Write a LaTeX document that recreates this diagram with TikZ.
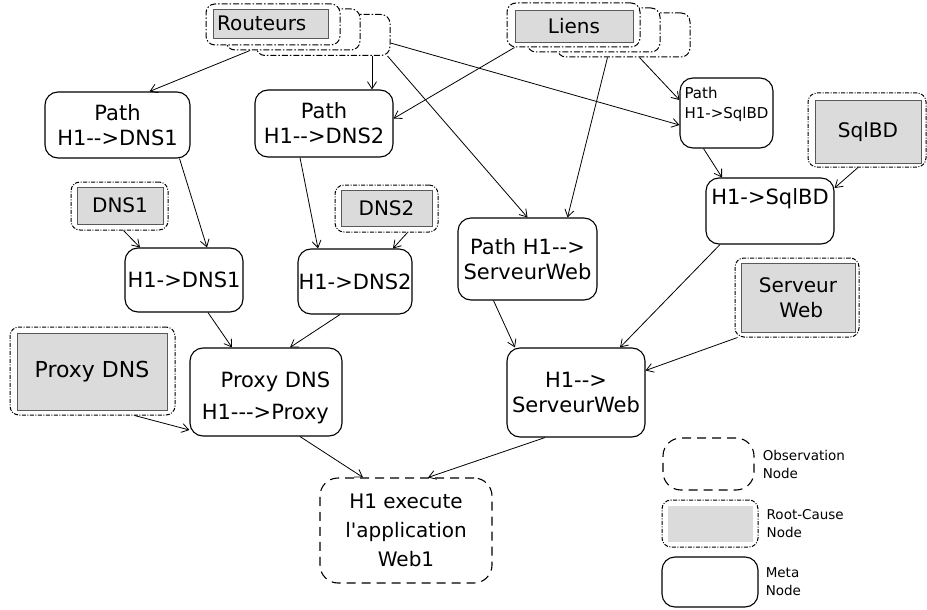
\documentclass[tikz,border=0pt]{standalone}
\usepackage{fontspec}
\setmainfont{DejaVu Sans}[Ligatures=TeXOff]
\usetikzlibrary{arrows.meta,positioning}

\begin{document}
\begin{tikzpicture}[x=1pt,y=-1pt,>={Straight Barb[length=7pt,width=9pt]},
  meta/.style={draw,line width=1.1pt,rounded corners=13pt,align=center,inner sep=0pt,font=\fontsize{21}{25}\selectfont},
  obs/.style={draw,line width=1.1pt,dash pattern=on 9pt off 6pt,rounded corners=18pt,align=center,inner sep=0pt,font=\fontsize{20}{29}\selectfont},
  rcbox/.style={draw,line width=1pt,dash pattern=on 4pt off 1.5pt on 1pt off 1.5pt,rounded corners=9pt,inner sep=0pt},
  rc/.style={draw=black!65,fill=black!14,line width=0.7pt,inner sep=0pt,align=center,font=\fontsize{20}{25}\selectfont},
  stack/.style={draw,fill=white,line width=1pt,dash pattern=on 6pt off 2pt on 1.5pt off 2pt,rounded corners=9pt,minimum width=134pt,minimum height=41pt},
  lnk/.style={->,line width=0.8pt},
  legtxt/.style={align=left,inner sep=0pt,font=\fontsize{13.5}{18}\selectfont}]
\useasboundingbox (0,0) rectangle (927,610);

% Routeurs et Liens
\node[stack] (routeursC) at (323,35) {};
\node[stack] (routeursB) at (293,29.5) {};
\node[stack] (routeursA) at (273,24.5) {};
\node[rc,minimum width=115pt,minimum height=29pt,inner xsep=4pt,text width=107pt,align=left] (routeurs) at (270.5,23.5) {Routeurs};
\node[stack,minimum width=133pt,minimum height=44pt] (liensC) at (623.5,35) {};
\node[stack,minimum width=133pt,minimum height=44pt] (liensB) at (593.5,30) {};
\node[stack,minimum width=133pt,minimum height=44pt] (liensA) at (573.5,25) {};
\node[rc,minimum width=118pt,minimum height=32pt] (liens) at (574,26) {Liens};

% root-cause
\node[rcbox,minimum width=97pt,minimum height=48pt] (dnsAo) at (119.5,206) {};
\node[rc,minimum width=86pt,minimum height=37pt] (dnsA) at (120,205.5) {DNS1};
\node[rcbox,minimum width=103pt,minimum height=47pt] (dnsBo) at (386.5,208.5) {};
\node[rc,minimum width=91pt,minimum height=36pt] (dnsB) at (386.5,208) {DNS2};
\node[rcbox,minimum width=118pt,minimum height=74pt] (sqlRcO) at (867,130) {};
\node[rc,minimum width=106pt,minimum height=63pt] (sqlRc) at (868,131.5) {SqlBD};
\node[rcbox,minimum width=124pt,minimum height=79pt] (webRcO) at (797,297.5) {};
\node[rc,minimum width=114pt,minimum height=69pt] (webRc) at (798,297.5) {Serveur\\\ Web};
\node[rcbox,minimum width=165pt,minimum height=88pt] (proxyRcO) at (92.5,371) {};
\node[rc,minimum width=150pt,minimum height=77pt,font=\fontsize{22}{26}\selectfont] (proxyRc) at (92,371.5) {Proxy DNS};

% meta
\node[meta,minimum width=145pt,minimum height=66pt] (pathA) at (117.5,125) {Path\\H1-->DNS1};
\node[meta,minimum width=138pt,minimum height=67pt] (pathB) at (324,123.5) {Path\\H1-->DNS2};
\node[meta,minimum width=93pt,minimum height=70pt,align=left,text depth=20pt,font=\fontsize{15}{20}\selectfont] (pathSql) at (726.5,113) {Path\\H1->SqlBD};
\node[meta,minimum width=118pt,minimum height=64pt] (hdnsA) at (184,280) {H1->DNS1};
\node[meta,minimum width=114pt,minimum height=65pt] (hdnsB) at (355,281.5) {H1->DNS2};
\node[meta,minimum width=139pt,minimum height=82pt] (pathWeb) at (527.5,259) {Path H1-->\\ServeurWeb};
\node[meta,minimum width=128pt,minimum height=66pt,text depth=28pt] (hsql) at (770,211) {H1->SqlBD};
\node[meta,minimum width=152pt,minimum height=88pt,align=left,text height=59pt,font=\fontsize{21}{32}\selectfont] (proxy) at (266,392) {\hspace{0.9em}Proxy DNS\\H1--->Proxy};
\node[meta,minimum width=138pt,minimum height=89pt] (hweb) at (576,392.5) {H1-->\\ServeurWeb};
\node[obs,minimum width=172pt,minimum height=105pt] (app) at (406,530.5) {H1 execute\\l'application\\Web1};

% liens
\draw[lnk] ([xshift=-43pt]routeursB.south) -- ([xshift=32pt]pathA.north);
\draw[lnk] ([xshift=49pt]routeursC.south) -- ([xshift=48pt]pathB.north);
\draw[lnk] ([yshift=-8pt]routeursC.east) -- ([yshift=-12pt]pathSql.west);
\draw[lnk] ([xshift=-3pt]routeursC.south east) -- (pathWeb.north);
\draw[lnk] ([xshift=8pt]liensA.south west) -- ([yshift=5pt]pathB.east);
\draw[lnk] ([xshift=-16pt]liensC.south) -- ([xshift=40pt]pathWeb.north);
\draw[lnk] ([xshift=16pt]liensC.south) -- ([yshift=13pt]pathSql.west);
\draw[lnk] ([xshift=62pt]pathA.south) -- ([xshift=23pt]hdnsA.north);
\draw[lnk] ([xshift=4pt]dnsAo.south) -- ([xshift=-44pt]hdnsA.north);
\draw[lnk] ([xshift=-24pt]pathB.south) -- ([xshift=-37pt]hdnsB.north);
\draw[lnk] ([xshift=21pt]dnsBo.south) -- ([xshift=38pt]hdnsB.north);
\draw[lnk] ([xshift=24pt]hdnsA.south) -- ([xshift=-34pt]proxy.north);
\draw[lnk] ([xshift=-15pt]hdnsB.south) -- ([xshift=24pt]proxy.north);
\draw[lnk] ([xshift=42pt]proxyRcO.south) -- ([yshift=-38pt]proxy.west);
\draw[lnk] ([xshift=-34pt]pathWeb.south) -- ([xshift=-61pt]hweb.north);
\draw[lnk] ([xshift=-50pt]hsql.south) -- ([xshift=44pt]hweb.north);
\draw[lnk] ([xshift=3pt]webRcO.south west) -- ([yshift=22pt]hweb.east);
\draw[lnk] ([xshift=-9pt]sqlRcO.south) -- ([yshift=23pt]hsql.east);
\draw[lnk] ([xshift=-23pt]pathSql.south) -- ([xshift=-48pt]hsql.north);
\draw[lnk] ([xshift=34pt]proxy.south) -- ([xshift=-43pt]app.north);
\draw[lnk] ([xshift=-31pt]hweb.south) -- ([xshift=22pt]app.north);

% legende
\node[obs,minimum width=91pt,minimum height=52pt] (legObs) at (708.5,464) {};
\node[legtxt,right=8pt of legObs] (legObsT) {Observation\\Node};
\node[rcbox,minimum width=96pt,minimum height=47pt] (legRcO) at (710,523.5) {};
\node[rc,draw=none,minimum width=85pt,minimum height=36pt] (legRc) at (710.5,524) {};
\node[legtxt,right=8pt of legRcO] (legRcT) {Root-Cause\\Node};
\node[meta,minimum width=96pt,minimum height=50pt] (legMeta) at (710,582) {};
\node[legtxt,right=7pt of legMeta] (legMetaT) {Meta\\Node};
\end{tikzpicture}
\end{document}
